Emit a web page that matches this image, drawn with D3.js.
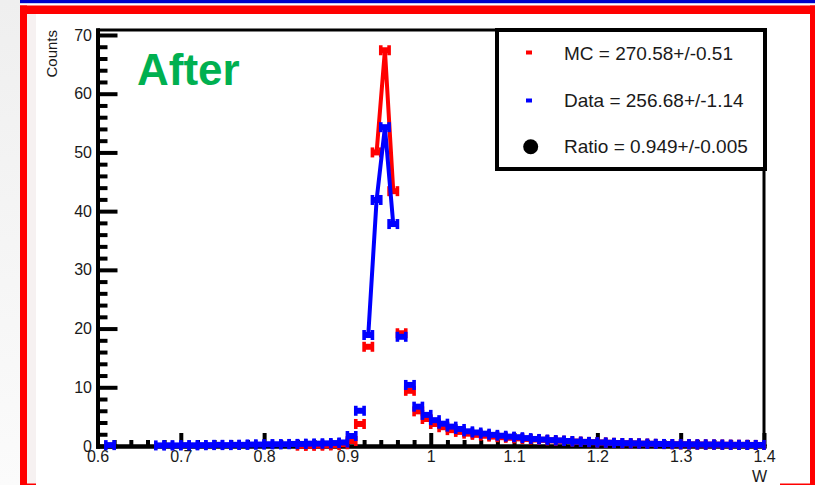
<!DOCTYPE html>
<html>
<head>
<meta charset="utf-8">
<script src="https://cdn.jsdelivr.net/npm/d3@7"></script>
<style>
  html, body { margin: 0; padding: 0; background: #ffffff; }
  svg { display: block; }
  text { font-family: "Liberation Sans", Arial, sans-serif; }
</style>
</head>
<body>
<svg id="chart" width="815" height="485"></svg>
<script>
// Histogram bin centres for W (bin width 0.01 from 0.6 to 1.4)
const binCenters = [
  0.605, 0.615, 0.625, 0.635, 0.645, 0.655, 0.665, 0.675, 0.685, 0.695,
  0.705, 0.715, 0.725, 0.735, 0.745, 0.755, 0.765, 0.775, 0.785, 0.795,
  0.805, 0.815, 0.825, 0.835, 0.845, 0.855, 0.865, 0.875, 0.885, 0.895,
  0.905, 0.915, 0.925, 0.935, 0.945, 0.955, 0.965, 0.975, 0.985, 0.995,
  1.005, 1.015, 1.025, 1.035, 1.045, 1.055, 1.065, 1.075, 1.085, 1.095,
  1.105, 1.115, 1.125, 1.135, 1.145, 1.155, 1.165, 1.175, 1.185, 1.195,
  1.205, 1.215, 1.225, 1.235, 1.245, 1.255, 1.265, 1.275, 1.285, 1.295,
  1.305, 1.315, 1.325, 1.335, 1.345, 1.355, 1.365, 1.375, 1.385, 1.395
];
const binWidth = 0.01;

// MC counts per bin (null = empty bin, not drawn)
const mcCounts = [
  null, null, null, null, null, null, null, null, null, null,
  null, null, null, null, null, null, null, null, null, null,
  null, null, null, null, 0.05, 0.05, 0.08, 0.1, 0.15, 0.3,
  0.85, 3.75, 16.9, 50.0, 67.4, 43.4, 19.2, 9.4, 5.9, 4.6,
  3.75, 3.2, 2.7, 2.4, 2.1, 1.9, 1.75, 1.6, 1.5, 1.4,
  1.3, 1.2, 1.1, 1.05, 0.95, 0.9, 0.85, 0.75, 0.7, 0.65,
  0.6, 0.55, 0.5, 0.47, 0.44, 0.4, 0.37, 0.34, 0.32, 0.3,
  0.29, 0.27, 0.25, 0.24, 0.23, 0.21, 0.2, 0.19, 0.18, 0.17
];

// Data counts per bin (null = empty bin, not drawn)
const dataCounts = [
  null, 0.15, null, null, null, null, null, 0.1, 0.12, 0.1,
  0.15, 0.12, 0.15, 0.15, 0.2, 0.15, 0.2, 0.2, 0.25, 0.25,
  0.3, 0.3, 0.3, 0.35, 0.35, 0.4, 0.4, 0.45, 0.5, 0.6,
  1.7, 6.0, 18.9, 41.9, 54.3, 37.8, 18.6, 10.4, 6.7, 5.3,
  4.4, 3.8, 3.3, 2.9, 2.5, 2.3, 2.1, 1.9, 1.75, 1.6,
  1.5, 1.35, 1.2, 1.1, 1.0, 0.95, 0.85, 0.75, 0.7, 0.65,
  0.6, 0.55, 0.5, 0.48, 0.45, 0.4, 0.38, 0.35, 0.33, 0.3,
  0.3, 0.28, 0.26, 0.25, 0.24, 0.22, 0.2, 0.2, 0.18, 0.18
];

// Bins joined by the connecting line around the peak
const mcLineBins = [0.935, 0.945, 0.955];
const dataLineBins = [0.925, 0.935, 0.945, 0.955];

// Axis ticks
const xTickValues = [0.6, 0.7, 0.8, 0.9, 1.0, 1.1, 1.2, 1.3, 1.4];
const xTickLabels = ["0.6", "0.7", "0.8", "0.9", "1", "1.1", "1.2", "1.3", "1.4"];
const yTickValues = [0, 10, 20, 30, 40, 50, 60, 70];
const yTickLabels = ["0", "10", "20", "30", "40", "50", "60", "70"];

// Legend entries
const legendLabels = ["MC = 270.58+/-0.51", "Data = 256.68+/-1.14", "Ratio = 0.949+/-0.005"];
const titleText = "After";
const xTitle = "W";
const yTitle = "Counts";

const svg = d3.select("#chart");
const RED = "#ff0000", BLUE = "#0000ff";

// ---- slide decoration ----
const defs = svg.append("defs");
const grad = defs.append("linearGradient").attr("id", "sideGrad")
  .attr("x1", 0).attr("y1", 0).attr("x2", 0).attr("y2", 1);
grad.append("stop").attr("offset", "0%").attr("stop-color", "#efefef");
grad.append("stop").attr("offset", "100%").attr("stop-color", "#fbfbfb");

svg.append("rect").attr("x", 0).attr("y", 0).attr("width", 20).attr("height", 485).attr("fill", "url(#sideGrad)");
svg.append("rect").attr("x", 20).attr("y", 0).attr("width", 795).attr("height", 3.2).attr("fill", "#0000c8");
svg.append("rect").attr("x", 20).attr("y", 5.5).attr("width", 795).attr("height", 8.5).attr("fill", RED);
svg.append("rect").attr("x", 20).attr("y", 5.5).attr("width", 7).attr("height", 480).attr("fill", RED);
svg.append("rect").attr("x", 810).attr("y", 5.5).attr("width", 5).attr("height", 480).attr("fill", RED);
svg.append("rect").attr("x", 27).attr("y", 14).attr("width", 9).attr("height", 470).attr("fill", "#f6f1f1");
svg.append("rect").attr("x", 27).attr("y", 483.5).attr("width", 9).attr("height", 1.5).attr("fill", RED);
svg.append("rect").attr("x", 780).attr("y", 483.5).attr("width", 30).attr("height", 1.5).attr("fill", RED);

// ---- scales ----
const x = d3.scaleLinear().domain([0.6, 1.4]).range([97.5, 764]);
const y = d3.scaleLinear().domain([0, 70.85]).range([446, 30]);

// ---- frame (top and right) ----
svg.append("line").attr("x1", x(0.6)).attr("x2", x(1.4)).attr("y1", y(70.85)).attr("y2", y(70.85))
  .attr("stroke", "#000").attr("stroke-width", 3);
svg.append("line").attr("x1", x(1.4)).attr("x2", x(1.4)).attr("y1", y(70.85)).attr("y2", y(0))
  .attr("stroke", "#000").attr("stroke-width", 3);

// ---- axes with inward ticks ----
const xMinor = d3.range(0.62, 1.4, 0.02).filter(v => Math.abs(v * 10 - Math.round(v * 10)) > 1e-6);
const yMinor = d3.range(2, 70.85, 2).filter(v => v % 10 !== 0);

const xMinorAxis = d3.axisBottom(x).tickValues(xMinor).tickSize(-6).tickSizeOuter(0).tickFormat("");
const xAxis = d3.axisBottom(x).tickValues(xTickValues).tickSize(-13).tickSizeOuter(0).tickPadding(5)
  .tickFormat((d, i) => xTickLabels[i]);
const yMinorAxis = d3.axisLeft(y).tickValues(yMinor).tickSize(-10).tickSizeOuter(0).tickFormat("");
const yAxis = d3.axisLeft(y).tickValues(yTickValues).tickSize(-20).tickSizeOuter(0).tickPadding(5.5)
  .tickFormat((d, i) => yTickLabels[i]);

function styleAxis(g) {
  g.select(".domain").attr("stroke", "#000").attr("stroke-width", 4).attr("stroke-linecap", "square");
  g.selectAll(".tick line").attr("stroke", "#000").attr("stroke-width", 4);
  g.selectAll(".tick text").attr("fill", "#1a1a1a").style("font-size", "16px")
    .style("font-family", "'Liberation Sans', Arial, sans-serif");
}

svg.append("g").attr("transform", `translate(0,${y(0)})`).call(xMinorAxis).call(styleAxis);
svg.append("g").attr("transform", `translate(0,${y(0)})`).call(xAxis).call(styleAxis);
svg.append("g").attr("transform", `translate(${x(0.6)},0)`).call(yMinorAxis).call(styleAxis);
svg.append("g").attr("transform", `translate(${x(0.6)},0)`).call(yAxis).call(styleAxis);

// ---- axis titles ----
svg.append("text").attr("transform", "translate(57,30) rotate(-90)")
  .attr("text-anchor", "end").style("font-size", "15px").attr("fill", "#1a1a1a").text(yTitle);
svg.append("text").attr("x", 767).attr("y", 482).attr("text-anchor", "end")
  .style("font-size", "16px").attr("fill", "#1a1a1a").text(xTitle);

// ---- histogram markers: horizontal bin-width bar with end caps ----
function drawSeries(counts, lineBins, color) {
  const pts = binCenters.map((c, i) => ({ c, v: counts[i] })).filter(d => d.v !== null);
  const linePts = pts.filter(d => lineBins.some(b => Math.abs(b - d.c) < 1e-9));
  const line = d3.line().x(d => x(d.c)).y(d => y(d.v));
  svg.append("path").datum(linePts).attr("d", line)
    .attr("fill", "none").attr("stroke", color).attr("stroke-width", 4).attr("stroke-linejoin", "round");

  const g = svg.append("g").attr("fill", color);
  const mk = g.selectAll("g").data(pts).join("g");
  mk.append("rect")
    .attr("x", d => x(d.c - binWidth / 2))
    .attr("width", d => x(d.c + binWidth / 2) - x(d.c - binWidth / 2))
    .attr("y", d => y(d.v) - 3).attr("height", 6);
  mk.append("rect")
    .attr("x", d => x(d.c - binWidth / 2) - 1.8).attr("width", 3.6)
    .attr("y", d => y(d.v) - 5).attr("height", 10);
  mk.append("rect")
    .attr("x", d => x(d.c + binWidth / 2) - 1.8).attr("width", 3.6)
    .attr("y", d => y(d.v) - 5).attr("height", 10);
}
drawSeries(mcCounts, mcLineBins, RED);
drawSeries(dataCounts, dataLineBins, BLUE);

// ---- title ----
svg.append("text").attr("x", 137).attr("y", 85)
  .style("font-size", "44px").style("font-weight", "bold").attr("fill", "#00b050").text(titleText);

// ---- legend ----
svg.append("rect").attr("x", 497).attr("y", 30).attr("width", 268).attr("height", 139)
  .attr("fill", "#fff").attr("stroke", "#000").attr("stroke-width", 4);
const legendY = [59.5, 107, 153];
svg.append("rect").attr("x", 526).attr("y", 50.5).attr("width", 6).attr("height", 4).attr("fill", RED);
svg.append("rect").attr("x", 526).attr("y", 98.5).attr("width", 6).attr("height", 4).attr("fill", BLUE);
svg.append("circle").attr("cx", 530.7).attr("cy", 146.7).attr("r", 7.5).attr("fill", "#000");
svg.selectAll("text.leg").data(legendLabels).join("text").attr("class", "leg")
  .attr("x", 564).attr("y", (d, i) => legendY[i])
  .style("font-size", "19px").attr("fill", "#1a1a1a").text(d => d);
</script>
</body>
</html>
